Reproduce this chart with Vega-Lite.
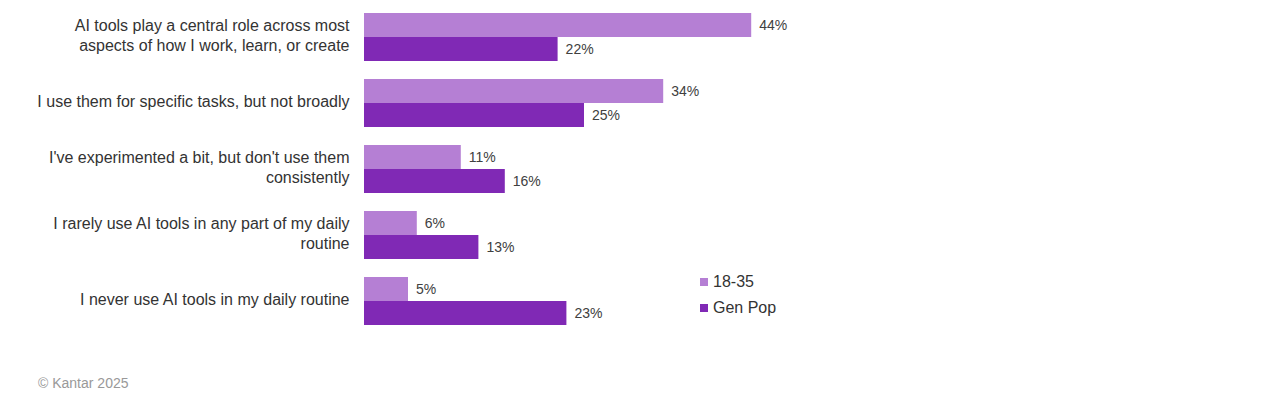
{
  "$schema": "https://vega.github.io/schema/vega-lite/v6.json",
  "autosize": {"type": "none"},
  "width": 880,
  "height": 330,
  "padding": {"left": 364, "top": 4, "right": 36, "bottom": 64},
  "background": "white",
  "config": {
    "view": {"stroke": null},
    "font": "Liberation Sans",
    "text": {"font": "Liberation Sans"}
  },
  "title": {
    "text": "© Kantar 2025",
    "orient": "bottom",
    "anchor": "start",
    "frame": "group",
    "dx": -326,
    "offset": 43,
    "fontSize": 14,
    "fontWeight": "normal",
    "color": "#999999",
    "font": "Liberation Sans"
  },
  "data": {
    "values": [
      {"statement": "AI tools play a central role across most|aspects of how I work, learn, or create", "group": "18-35", "pct": 44},
      {"statement": "AI tools play a central role across most|aspects of how I work, learn, or create", "group": "Gen Pop", "pct": 22},
      {"statement": "I use them for specific tasks, but not broadly", "group": "18-35", "pct": 34},
      {"statement": "I use them for specific tasks, but not broadly", "group": "Gen Pop", "pct": 25},
      {"statement": "I've experimented a bit, but don't use them|consistently", "group": "18-35", "pct": 11},
      {"statement": "I've experimented a bit, but don't use them|consistently", "group": "Gen Pop", "pct": 16},
      {"statement": "I rarely use AI tools in any part of my daily|routine", "group": "18-35", "pct": 6},
      {"statement": "I rarely use AI tools in any part of my daily|routine", "group": "Gen Pop", "pct": 13},
      {"statement": "I never use AI tools in my daily routine", "group": "18-35", "pct": 5},
      {"statement": "I never use AI tools in my daily routine", "group": "Gen Pop", "pct": 23}
    ]
  },
  "encoding": {
    "y": {
      "field": "statement",
      "type": "nominal",
      "sort": null,
      "scale": {"paddingInner": 0.2727, "paddingOuter": 0.1364},
      "axis": {
        "title": null,
        "ticks": false,
        "domain": false,
        "labelPadding": 15,
        "labelFontSize": 16,
        "labelLineHeight": 20,
        "labelColor": "#333333",
        "labelLimit": 400,
        "labelOffset": {"condition": {"test": "indexof(datum.value, '|') >= 0", "value": -11}, "value": -1},
        "labelExpr": "split(datum.label, '|')"
      }
    },
    "yOffset": {"field": "group", "type": "nominal", "sort": ["18-35", "Gen Pop"], "scale": {"paddingInner": 0, "paddingOuter": 0}},
    "x": {"field": "pct", "type": "quantitative", "scale": {"domain": [0, 100]}, "axis": null}
  },
  "layer": [
    {
      "mark": {"type": "bar"},
      "encoding": {
        "color": {
          "field": "group",
          "type": "nominal",
          "sort": ["18-35", "Gen Pop"],
          "scale": {"domain": ["18-35", "Gen Pop"], "range": ["#b57fd4", "#8029b5"]},
          "legend": {
            "title": null,
            "orient": "none",
            "legendX": 332,
            "legendY": 270,
            "direction": "vertical",
            "symbolType": "square",
            "symbolSize": 64,
            "symbolStrokeWidth": 0,
            "labelFontSize": 16,
            "labelColor": "#333333",
            "rowPadding": 10,
            "labelOffset": 1
          }
        }
      }
    },
    {
      "transform": [{"calculate": "datum.pct + '%'", "as": "label"}],
      "mark": {"type": "text", "align": "left", "baseline": "middle", "dx": 8, "dy": 1, "fontSize": 14, "color": "#404040"},
      "encoding": {
        "text": {"field": "label", "type": "nominal"},
        "detail": {"field": "group"}
      }
    }
  ]
}
